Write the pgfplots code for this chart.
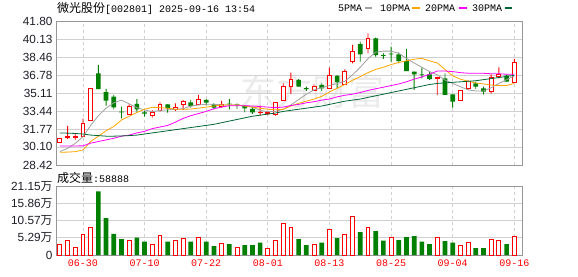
\documentclass[border=0pt]{standalone}
\usepackage{pgfplots}
\pgfplotsset{compat=1.18}
\usepackage{pgfplotstable}
\usepackage{fontspec}
\setmainfont{Liberation Sans}
\newfontfamily\cjk{Noto Sans CJK SC}
\newfontfamily\mono{Liberation Mono}
\definecolor{cred}{RGB}{255,0,0}
\definecolor{cgreen}{RGB}{0,128,0}
\definecolor{cma5}{RGB}{160,160,160}
\definecolor{cma10}{RGB}{255,165,0}
\definecolor{cma20}{RGB}{255,0,255}
\definecolor{cma30}{RGB}{0,102,51}
\definecolor{gridc}{RGB}{208,208,208}
\definecolor{framec}{RGB}{150,150,150}
\definecolor{tickc}{RGB}{30,30,40}

\pgfplotstableread{
i o h l c
0 30.55 30.95 30.50 30.90
1 31.00 32.05 30.84 31.02
2 31.00 31.30 30.75 31.02
3 31.05 32.76 31.05 32.30
4 32.60 35.57 32.55 35.55
9 33.16 34.06 33.07 33.84
12 33.00 33.53 32.82 33.28
13 33.53 34.25 33.37 34.00
15 33.60 34.15 33.44 33.78
16 34.09 34.46 33.53 34.37
18 34.06 34.93 34.00 34.55
21 33.84 34.37 33.75 34.09
26 33.30 33.93 33.00 33.34
27 33.22 33.40 33.07 33.28
28 33.16 34.25 33.00 34.25
29 34.46 36.01 34.37 35.76
30 35.76 37.00 35.02 36.41
33 35.39 35.92 35.30 35.76
35 35.55 37.46 35.49 36.78
37 35.92 37.31 35.86 37.15
38 38.08 39.57 37.87 39.01
40 39.27 40.66 38.80 40.19
49 36.45 36.60 34.93 36.60
52 34.43 35.36 34.43 35.36
53 35.49 36.29 35.42 36.16
56 35.30 36.85 35.08 36.53
57 36.63 37.49 36.48 36.85
59 36.07 38.27 36.07 37.96
}\upc

\pgfplotstableread{
i o h l c
5 36.94 37.71 35.46 35.46
6 35.18 35.49 33.93 34.40
7 34.77 34.93 33.60 33.78
8 33.35 33.84 32.76 33.30
10 34.09 34.55 33.37 33.60
11 33.30 33.44 32.91 33.20
14 34.06 34.06 33.28 33.69
17 34.25 34.46 33.75 33.90
19 34.46 34.55 33.93 34.21
20 34.06 34.15 33.60 33.75
22 34.09 34.55 33.60 34.05
23 34.02 34.15 33.63 33.98
24 33.93 33.93 33.32 33.69
25 33.63 33.84 33.16 33.32
31 36.32 36.41 35.70 35.70
32 35.52 35.70 35.30 35.48
34 35.86 36.01 35.30 35.55
36 36.69 36.78 35.55 36.11
39 39.64 39.88 38.02 38.71
41 40.19 40.25 38.48 38.64
42 38.60 38.80 38.27 38.56
43 38.73 39.41 38.02 38.70
44 38.71 38.89 37.87 38.08
45 38.08 39.20 37.15 37.15
46 37.09 37.09 35.39 36.85
47 36.80 37.46 36.48 36.76
48 36.85 37.09 36.32 36.41
50 36.48 36.94 34.93 34.93
51 34.99 34.99 33.75 34.30
54 36.01 36.16 35.49 35.70
55 35.55 35.70 34.99 35.24
58 36.72 36.85 36.16 36.16
}\downc

\pgfplotstableread{
i v
0 3.36
1 4.58
2 2.34
3 6.40
4 8.44
9 4.58
12 3.36
13 6.00
15 4.58
16 5.08
18 5.39
21 3.56
23 2.34
27 2.03
28 4.58
29 9.66
30 8.44
33 3.36
35 7.83
37 6.40
38 11.90
40 8.44
43 5.39
49 5.39
52 2.95
53 3.97
56 4.78
57 4.58
59 5.80
}\volup

\pgfplotstableread{
i v
5 19.50
6 11.30
7 6.50
8 4.88
10 5.29
11 4.07
14 4.07
17 4.07
19 4.07
20 2.75
22 3.36
24 3.05
25 3.05
26 3.76
31 4.88
32 3.05
34 3.76
36 5.19
39 7.00
41 7.32
42 4.37
44 4.58
45 5.49
46 5.80
47 4.07
48 3.36
50 4.27
51 3.76
54 2.14
55 2.14
58 3.36
}\voldown

\pgfplotstableread{
i m5 m10 m20 m30
0 29.66 29.60 30.19 31.40
1 29.97 29.62 30.19 31.38
2 30.43 29.66 30.19 31.35
3 31.05 29.82 30.20 31.30
4 32.10 30.60 30.45 31.20
5 33.00 31.10 30.60 31.15
6 33.70 31.60 30.75 31.10
7 34.20 32.00 30.90 31.10
8 34.45 32.60 31.10 31.12
9 34.10 32.95 31.20 31.15
10 33.75 33.30 31.40 31.20
11 33.53 33.60 31.55 31.30
12 33.37 33.78 31.80 31.40
13 33.50 33.75 31.95 31.50
14 33.55 33.70 32.10 31.60
15 33.60 33.60 32.40 31.70
16 33.65 33.60 32.75 31.80
17 33.90 33.62 33.00 31.90
18 34.00 33.70 33.20 32.00
19 34.06 33.80 33.40 32.10
20 34.06 33.90 33.65 32.20
21 34.00 34.00 33.80 32.35
22 34.00 34.00 33.93 32.50
23 34.00 34.00 33.93 32.65
24 33.95 33.90 33.93 32.80
25 33.80 33.80 33.90 32.95
26 33.50 33.70 33.85 33.05
27 33.37 33.60 33.80 33.15
28 33.40 33.55 33.75 33.25
29 33.60 33.60 33.80 33.40
30 34.00 33.90 33.95 33.50
31 34.50 34.15 34.05 33.60
32 35.00 34.35 34.20 33.70
33 35.40 34.55 34.30 33.80
34 35.60 34.80 34.45 33.90
35 35.80 35.20 34.55 34.05
36 36.00 35.55 34.75 34.20
37 36.20 35.90 34.90 34.35
38 36.80 36.30 35.00 34.45
39 37.50 36.63 35.15 34.55
40 38.30 37.00 35.35 34.70
41 38.90 37.30 35.50 34.85
42 39.00 37.50 35.65 35.00
43 39.00 37.75 35.80 35.15
44 38.80 37.95 35.95 35.30
45 38.33 38.10 36.15 35.45
46 37.90 38.25 36.40 35.60
47 37.50 38.33 36.60 35.75
48 37.10 38.10 36.85 35.90
49 36.80 37.90 37.15 36.00
50 36.32 37.30 37.15 36.05
51 36.00 36.70 37.10 36.10
52 35.70 36.40 37.00 36.15
53 35.40 36.20 36.95 36.20
54 35.30 36.05 36.94 36.25
55 35.30 35.95 36.94 36.35
56 35.60 35.85 36.90 36.45
57 36.00 35.80 36.90 36.55
58 36.35 35.80 36.85 36.65
59 36.69 36.00 36.85 36.75
}\matab

\pgfplotsset{
  kbase/.style={width=466pt, height=144pt, scale only axis,
    at={(56pt,111pt)}, anchor=south west,
    xmin=-0.5, xmax=60, ymin=28.42, ymax=41.80, enlargelimits=false},
}

\begin{document}
\begin{tikzpicture}
\useasboundingbox (0,0) rectangle (578pt,276pt);
\fill[white] (0,0) rectangle (578pt,276pt);

% watermark
\node[text=black!8, font=\cjk\fontsize{36}{36}\selectfont] at (312pt,184pt) {东方财富};

% title
\node[anchor=west, inner sep=0pt] at (57pt,267.5pt)
  {{\cjk\fontsize{12}{12}\selectfont 微光股份}{\mono\fontsize{10}{10}\selectfont [002801] 2025-09-16 13:54}};

% legend
\node[anchor=west, inner sep=0pt, font=\mono\fontsize{10}{10}\selectfont] at (338pt,267.5pt) {5PMA};
\draw[cma5, line width=2pt] (365pt,267.5pt) -- (372pt,267.5pt);
\node[anchor=west, inner sep=0pt, font=\mono\fontsize{10}{10}\selectfont] at (380pt,267.5pt) {10PMA};
\draw[cma10, line width=2pt] (412pt,267.5pt) -- (420pt,267.5pt);
\node[anchor=west, inner sep=0pt, font=\mono\fontsize{10}{10}\selectfont] at (425pt,267.5pt) {20PMA};
\draw[cma20, line width=2pt] (459pt,267.5pt) -- (467pt,267.5pt);
\node[anchor=west, inner sep=0pt, font=\mono\fontsize{10}{10}\selectfont] at (472pt,267.5pt) {30PMA};
\draw[cma30, line width=2pt] (505pt,267.5pt) -- (512pt,267.5pt);

% volume label
\node[anchor=west, inner sep=0pt] at (57pt,98.5pt)
  {{\cjk\fontsize{12}{12}\selectfont 成交量}{\mono\fontsize{10}{10}\selectfont :58888}};

% main frame, grid
\begin{axis}[kbase,
  axis line style={framec, line width=0.8pt},
  xtick={3,11,19,27,35,43,51,59}, xticklabels={},
  ytick={28.42,30.10,31.77,33.44,35.11,36.78,38.46,40.13,41.80},
  yticklabels={28.42,30.10,31.77,33.44,35.11,36.78,38.46,40.13,41.80},
  major tick length=0pt,
  xmajorgrids, ymajorgrids,
  major x grid style={gridc, dash pattern=on 3pt off 3pt, line width=0.8pt},
  major y grid style={gridc, line width=0.8pt},
  yticklabel style={font=\fontsize{11.8}{12}\selectfont, text=tickc},
]
\end{axis}

% wicks (up)
\begin{axis}[kbase, hide axis, ybar stacked, bar width=0.9pt]
\addplot[draw=none, fill=none] table[x=i, y=l] {\upc};
\addplot[draw=none, fill=cred] table[x=i, y expr={\thisrow{h}-\thisrow{l}}] {\upc};
\end{axis}
% wicks (down)
\begin{axis}[kbase, hide axis, ybar stacked, bar width=0.9pt]
\addplot[draw=none, fill=none] table[x=i, y=l] {\downc};
\addplot[draw=none, fill=cgreen] table[x=i, y expr={\thisrow{h}-\thisrow{l}}] {\downc};
\end{axis}

% up bodies
\begin{axis}[kbase, hide axis, ybar stacked, bar width=3.9pt]
\addplot[draw=none, fill=none] table[x=i, y=o] {\upc};
\addplot[draw=cred, fill=white, line width=0.9pt] table[x=i, y expr={max(\thisrow{c}-\thisrow{o},0.03)}] {\upc};
\end{axis}

% down bodies
\begin{axis}[kbase, hide axis, ybar stacked, bar width=4.7pt]
\addplot[draw=none, fill=none] table[x=i, y=c] {\downc};
\addplot[draw=none, fill=cgreen] table[x=i, y expr={max(\thisrow{o}-\thisrow{c},0.08)}] {\downc};
\end{axis}

% moving averages
\begin{axis}[kbase, hide axis]
\addplot[cma5, line width=0.8pt, mark=none] table[x=i, y=m5] {\matab};
\addplot[cma10, line width=0.8pt, mark=none] table[x=i, y=m10] {\matab};
\addplot[cma20, line width=0.8pt, mark=none] table[x=i, y=m20] {\matab};
\addplot[cma30, line width=0.8pt, mark=none] table[x=i, y=m30] {\matab};
\end{axis}

% volume panel
\begin{axis}[width=466pt, height=69pt, scale only axis,
  at={(56pt,21pt)}, anchor=south west,
  xmin=-0.5, xmax=60, ymin=0, ymax=21.15, enlargelimits=false,
  ybar, bar shift=0pt,
  axis line style={framec, line width=0.8pt},
  xtick={3,11,19,27,35,43,51,59},
  xticklabels={06-30,07-10,07-22,08-01,08-13,08-25,09-04,09-16},
  ytick={0,5.29,10.57,15.86,21.15},
  yticklabels={0,5.29{\cjk 万},10.57{\cjk 万},15.86{\cjk 万},21.15{\cjk 万}},
  major tick length=0pt,
  xmajorgrids, ymajorgrids,
  major x grid style={gridc, dash pattern=on 3pt off 3pt, line width=0.8pt},
  major y grid style={gridc, line width=0.8pt},
  yticklabel style={font=\fontsize{11.8}{12}\selectfont, text=tickc},
  xticklabel style={font=\mono\fontsize{10}{10}\selectfont, text=cred, yshift=-1pt},
]
\addplot[draw=cred, fill=white, line width=0.9pt, bar width=3.9pt] table[x=i, y=v] {\volup};
\addplot[draw=none, fill=cgreen, bar width=4.7pt] table[x=i, y=v] {\voldown};
\end{axis}
\end{tikzpicture}
\end{document}
